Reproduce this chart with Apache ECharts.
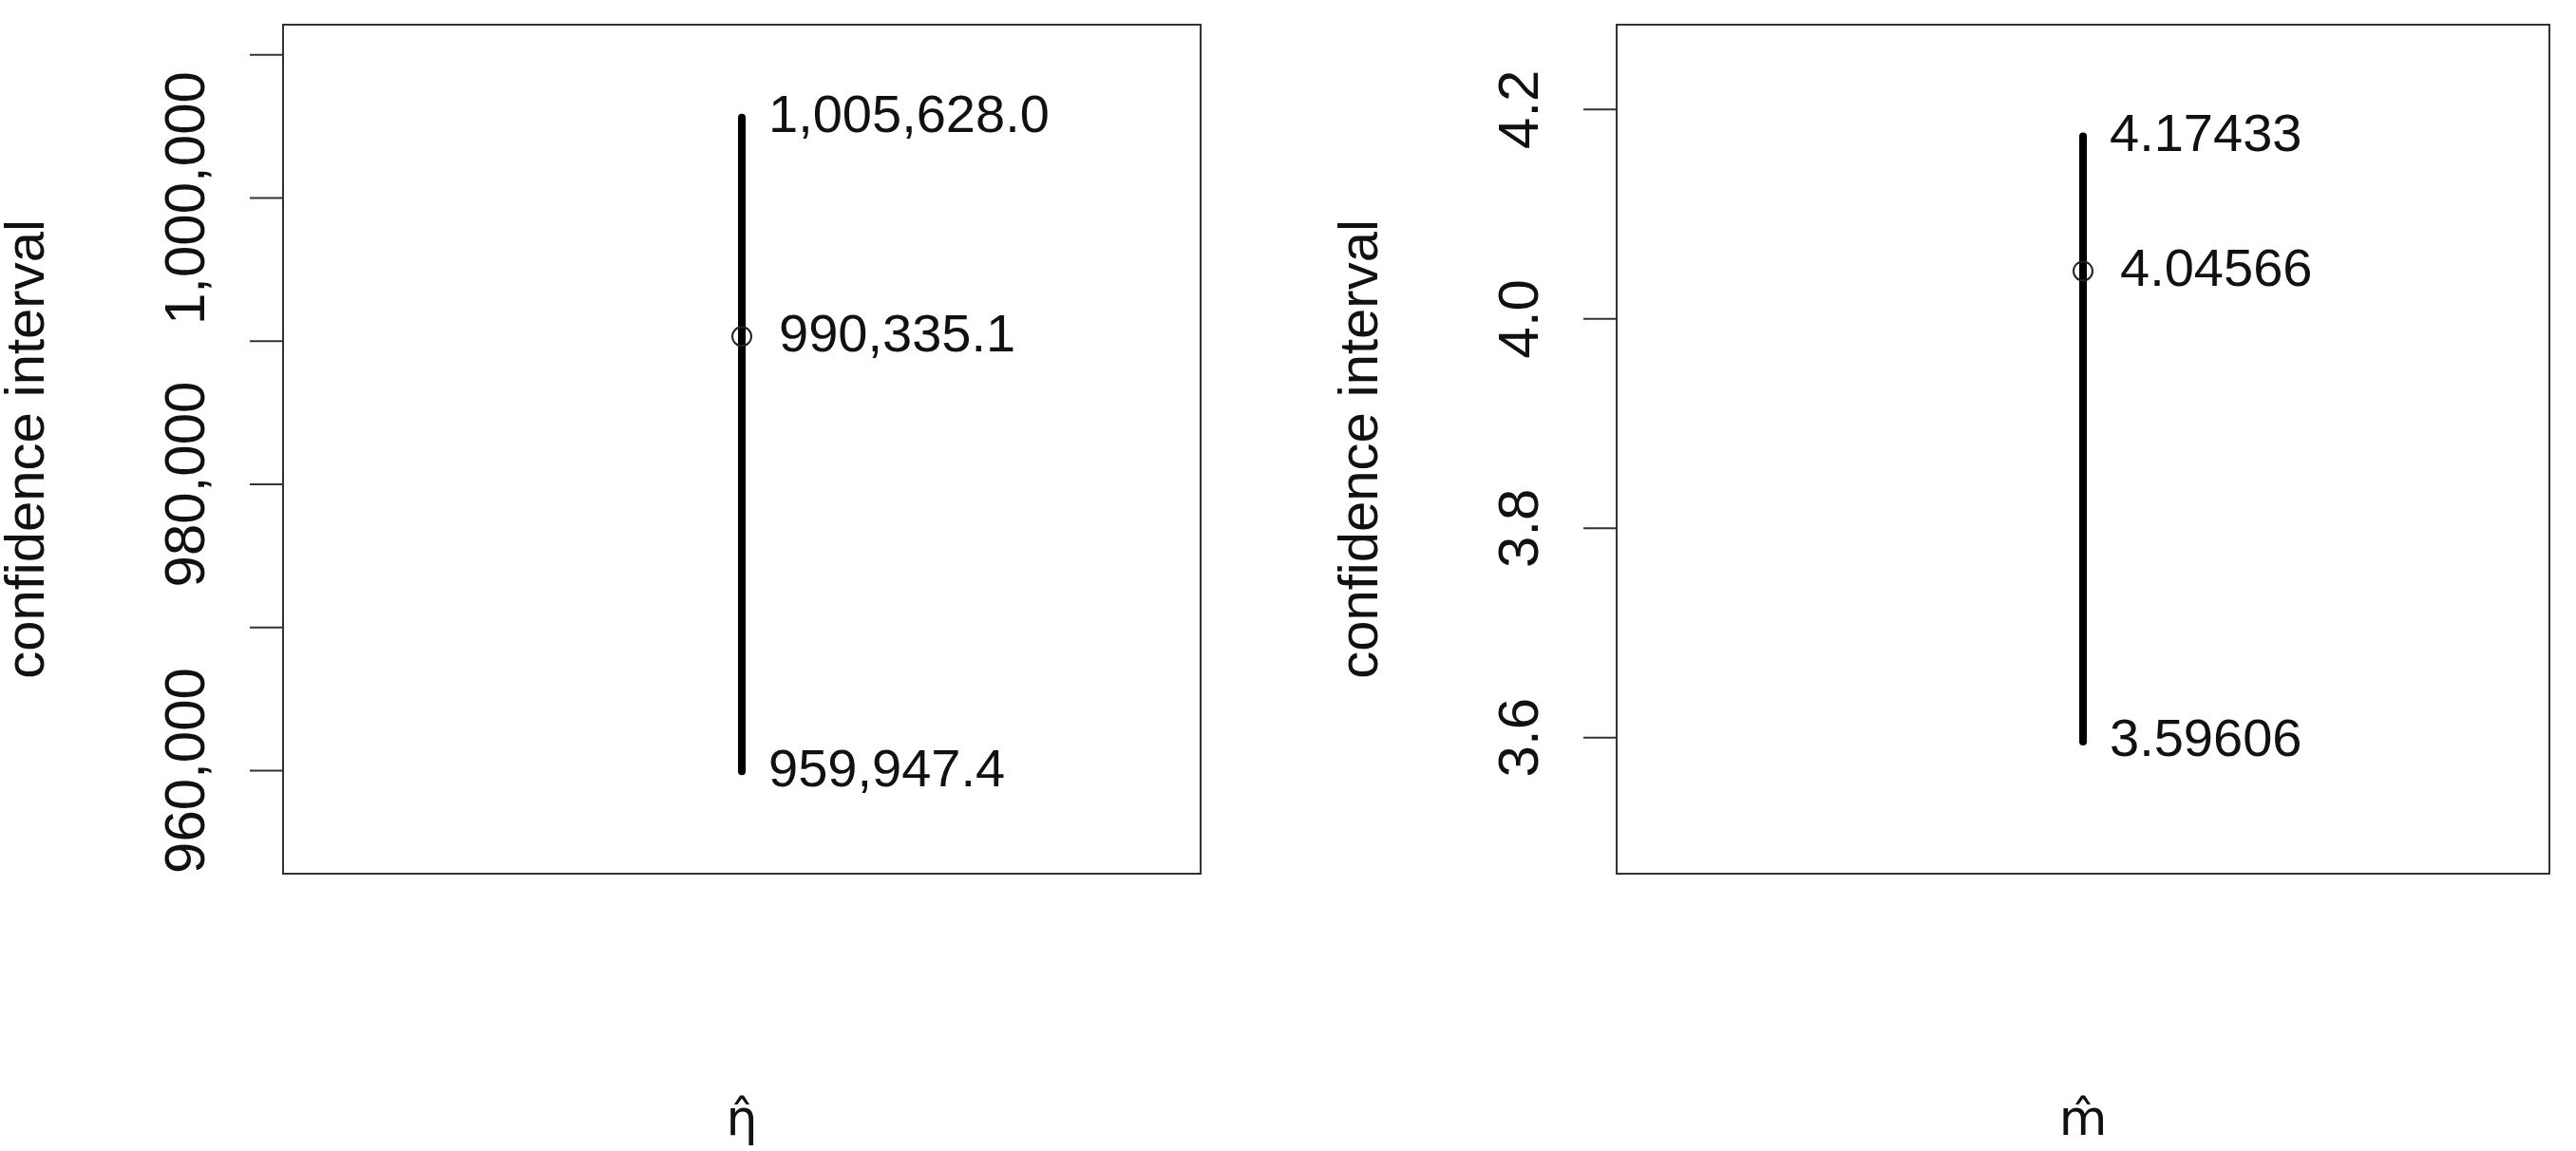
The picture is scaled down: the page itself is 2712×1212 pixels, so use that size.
<!DOCTYPE html>
<html><head><meta charset="utf-8">
<script src="https://cdn.jsdelivr.net/npm/echarts@6/dist/echarts.min.js"></script>
<style>html,body{margin:0;padding:0;background:#fff}#c{width:2712px;height:1212px}</style>
</head><body><div id="c"></div>
<script>
// Left panel (eta)
const etaInterval = [959947.4, 990335.1, 1005628.0]; // lower, estimate, upper
const etaTicks = [960000, 970000, 980000, 990000, 1000000, 1010000];
const etaTickLabels = {960000: '960,000', 980000: '980,000', 1000000: '1,000,000'};
// Right panel (m)
const mInterval = [3.59606, 4.04566, 4.17433];
const mTicks = [3.6, 3.8, 4.0, 4.2];
const mTickLabels = {3.6: '3.6', 3.8: '3.8', 4.0: '4.0', 4.2: '4.2'};

const FONT = 'Liberation Sans, Arial, sans-serif';
const TXT = '#111';
const fmtEta = v => v.toLocaleString('en-US', {minimumFractionDigits: 1, maximumFractionDigits: 1});
const fmtM = v => v.toFixed(5);

function panel(i, interval, ticks, tickLabels, fmt) {
  const axisSeries = {
    type: 'custom', xAxisIndex: i, yAxisIndex: i, silent: true, clip: false,
    data: ticks.map(t => [0, t]),
    renderItem: (params, api) => {
      const p = api.coord([0, api.value(1)]);
      const children = [{type: 'line', shape: {x1: p[0] - 35, y1: p[1], x2: p[0], y2: p[1]}, style: {stroke: '#333', lineWidth: 2}}];
      const lab = tickLabels[ticks[params.dataIndex]];
      if (lab) children.push({type: 'text', x: p[0] - 100, y: p[1], rotation: Math.PI / 2,
        style: {text: lab, fill: TXT, font: '60px ' + FONT, align: 'center', verticalAlign: 'middle'}});
      return {type: 'group', children};
    }
  };
  const lineSeries = {
    type: 'line', xAxisIndex: i, yAxisIndex: i, symbol: 'none', silent: true,
    data: [[1, interval[0]], [1, interval[2]]],
    lineStyle: {color: '#000', width: 8, cap: 'round'}
  };
  const pts = {
    type: 'scatter', xAxisIndex: i, yAxisIndex: i, silent: true, z: 5,
    data: interval.map((v, k) => ({value: [1, v], symbolSize: k === 1 ? 20 : 0})),
    symbol: 'circle',
    itemStyle: {color: 'rgba(255,255,255,0)', borderColor: '#222', borderWidth: 2, opacity: 1},
    label: {show: true, position: 'right', distance: 28, color: TXT, opacity: 1, fontFamily: FONT, fontSize: 56,
      formatter: p => fmt(p.value[1])}
  };
  return [axisSeries, lineSeries, pts];
}

const chart = echarts.init(document.getElementById('c'));
chart.setOption({
  animation: false,
  backgroundColor: '#fff',
  grid: [
    {left: 282, top: 26, width: 982, height: 898, show: true, borderColor: '#333', borderWidth: 2},
    {left: 1702, top: 26, width: 982, height: 898, show: true, borderColor: '#333', borderWidth: 2}
  ],
  xAxis: [0, 1].map((i, k) => ({
    gridIndex: i, type: 'value', min: 0, max: 2,
    axisLine: {show: false}, axisTick: {show: false}, axisLabel: {show: false}, splitLine: {show: false},
    name: k === 0 ? 'η̂' : 'm̂', nameLocation: 'middle', nameGap: 235,
    nameTextStyle: {fontFamily: 'DejaVu Sans', fontSize: 52, color: TXT}
  })),
  yAxis: [
    {gridIndex: 0, type: 'value', min: 952800, max: 1012114},
    {gridIndex: 1, type: 'value', min: 3.47, max: 4.281}
  ].map(a => Object.assign(a, {
    axisLine: {show: false}, axisTick: {show: false}, axisLabel: {show: false}, splitLine: {show: false},
    name: 'confidence interval', nameLocation: 'middle', nameGap: 239, nameRotate: 90,
    nameTextStyle: {fontFamily: FONT, fontSize: 58, color: TXT}
  })),
  series: [
    ...panel(0, etaInterval, etaTicks, etaTickLabels, fmtEta),
    ...panel(1, mInterval, mTicks, mTickLabels, fmtM)
  ]
});
</script></body></html>
